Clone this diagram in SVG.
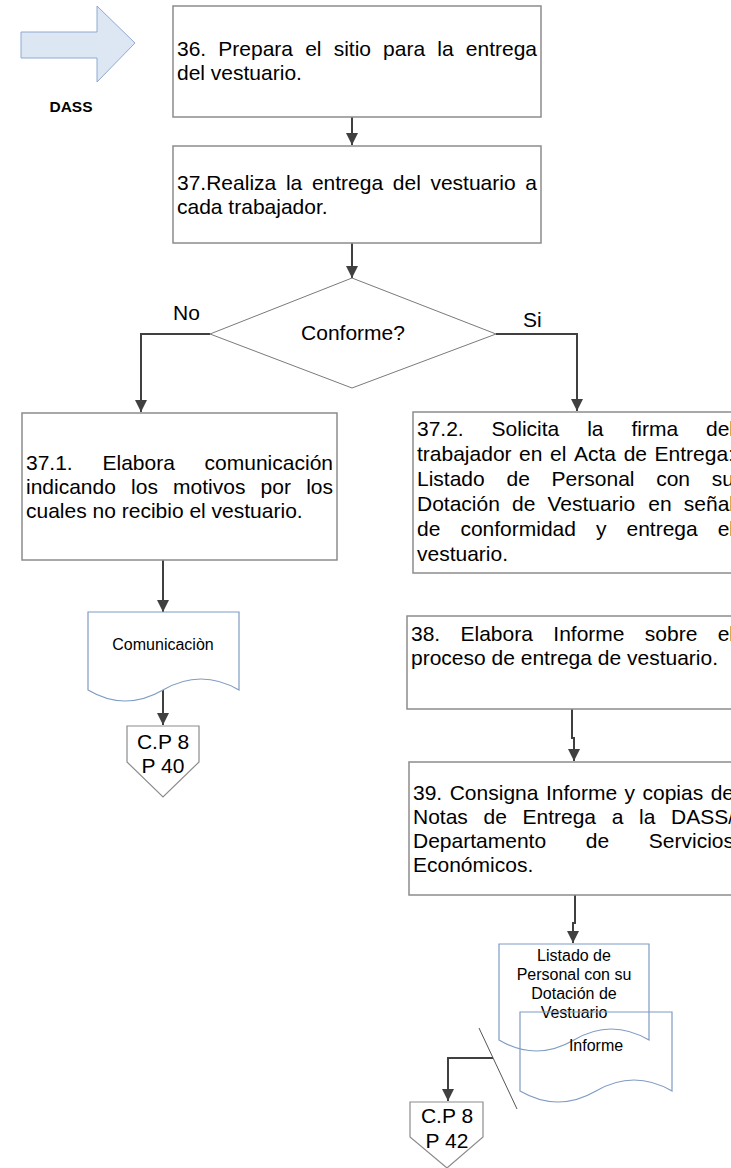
<svg xmlns="http://www.w3.org/2000/svg" width="731" height="1168" viewBox="0 0 731 1168">
  <style>
    .box { fill: #ffffff; stroke: #8c8c8c; stroke-width: 1.5; }
    .dec { fill: #ffffff; stroke: #7a7a7a; stroke-width: 1; }
    .doc { fill: none; stroke: #7f9cc4; stroke-width: 1.2; }
    .off { fill: #ffffff; stroke: #8c8c8c; stroke-width: 1.2; }
    .t { font-family: "Liberation Sans", Arial, sans-serif; font-size: 21px; fill: #000000; }
    .ts { font-family: "Liberation Sans", Arial, sans-serif; font-size: 16px; fill: #000000; }
    .c { text-anchor: middle; }
    .conn { fill: none; stroke: #404040; stroke-width: 2; }
  </style>
  <defs>
    <marker id="arrow" markerUnits="userSpaceOnUse" markerWidth="13" markerHeight="13" refX="12" refY="6" orient="auto">
      <path d="M0,0 L12,6 L0,12 Z" fill="#404040"/>
    </marker>
  </defs>

  <rect width="731" height="1168" fill="#ffffff"/>

  <!-- unit marker -->
  <g id="dass">
    <path d="M21,32 H97 V6 L135,43 L97,82 V58 H21 Z" fill="#dde6f3" stroke="#8faad0" stroke-width="1"/>
    <text x="71" y="112" font-family="Liberation Sans, Arial, sans-serif" font-size="15.5" font-weight="bold" text-anchor="middle">DASS</text>
  </g>

  <!-- connectors -->
  <g id="connectors">
    <path class="conn" d="M352,117 V145" marker-end="url(#arrow)"/>
    <path class="conn" d="M352,243 V278" marker-end="url(#arrow)"/>
    <path class="conn" d="M210,334 H141 V412" marker-end="url(#arrow)"/>
    <path class="conn" d="M496,334 H577 V411" marker-end="url(#arrow)"/>
    <path class="conn" d="M163,560 V612" marker-end="url(#arrow)"/>
    <path class="conn" d="M163,690 V725" marker-end="url(#arrow)"/>
    <path class="conn" d="M572,709 V738 H574 V761" marker-end="url(#arrow)"/>
    <path class="conn" d="M575,895 V923 H573 V943" marker-end="url(#arrow)"/>
    <path class="conn" d="M493,1058 H448 V1101" marker-end="url(#arrow)"/>
    <line x1="479" y1="1028" x2="517" y2="1109" stroke="#555555" stroke-width="1"/>
  </g>

  <!-- justified lines are set word by word -->
  <g id="n36">
    <rect class="box" x="173" y="6" width="368" height="111"/>
    <text class="t" y="56"><tspan x="177">36.</tspan><tspan x="218.3">Prepara</tspan><tspan x="305.2">el</tspan><tspan x="333.7">sitio</tspan><tspan x="383.1">para</tspan><tspan x="437.3">la</tspan><tspan x="465.8">entrega</tspan></text>
    <text class="t" x="177" y="80">del vestuario.</text>
  </g>

  <g id="n37">
    <rect class="box" x="173" y="146" width="368" height="97"/>
    <text class="t" y="190"><tspan x="177">37.Realiza</tspan><tspan x="285.9">la</tspan><tspan x="311.9">entrega</tspan><tspan x="392.8">del</tspan><tspan x="430.4">vestuario</tspan><tspan x="525.3">a</tspan></text>
    <text class="t" x="177" y="214">cada trabajador.</text>
  </g>

  <g id="decision">
    <path class="dec" d="M352,278 L496,334 L352,388 L210,334 Z"/>
    <text class="t c" x="353" y="340">Conforme?</text>
    <text class="t" x="173" y="320">No</text>
    <text class="t" x="523" y="327">Si</text>
  </g>

  <g id="n37-1">
    <rect class="box" x="22" y="413" width="315" height="147"/>
    <text class="t" y="470"><tspan x="26">37.1.</tspan><tspan x="102.5">Elabora</tspan><tspan x="204.6">comunicación</tspan></text>
    <text class="t" y="494"><tspan x="26">indicando</tspan><tspan x="131.1">los</tspan><tspan x="173.1">motivos</tspan><tspan x="260.6">por</tspan><tspan x="306.2">los</tspan></text>
    <text class="t" x="26" y="518">cuales no recibio el vestuario.</text>
  </g>

  <g id="n37-2">
    <rect class="box" x="413" y="412" width="325" height="161"/>
    <text class="t" y="436"><tspan x="417">37.2.</tspan><tspan x="491.6">Solicita</tspan><tspan x="587.2">la</tspan><tspan x="631.4">firma</tspan><tspan x="706">del</tspan></text>
    <text class="t" y="461"><tspan x="417">trabajador</tspan><tspan x="519.1">en</tspan><tspan x="550.1">el</tspan><tspan x="574">Acta</tspan><tspan x="623.7">de</tspan><tspan x="654.6">Entrega:</tspan></text>
    <text class="t" y="486"><tspan x="417">Listado</tspan><tspan x="506.5">de</tspan><tspan x="551.6">Personal</tspan><tspan x="656.2">con</tspan><tspan x="711.8">su</tspan></text>
    <text class="t" y="511"><tspan x="417">Dotación</tspan><tspan x="512">de</tspan><tspan x="547.5">Vestuario</tspan><tspan x="648.3">en</tspan><tspan x="683.8">señal</tspan></text>
    <text class="t" y="536"><tspan x="417">de</tspan><tspan x="460.4">conformidad</tspan><tspan x="595.9">y</tspan><tspan x="626.5">entrega</tspan><tspan x="717.7">el</tspan></text>
    <text class="t" x="417" y="561">vestuario.</text>
  </g>

  <g id="doc-comunicacion">
    <path d="M88,612 H239 V690 Q201,668 163,690 Q125,712 88,690 Z" fill="#ffffff" stroke="#7f9cc4" stroke-width="1.2"/>
    <text class="ts c" x="163" y="650">Comunicaciòn</text>
  </g>

  <g id="off-page-40">
    <path class="off" d="M127,726 H199 V762 L163,797 L127,762 Z"/>
    <text class="t c" x="163" y="749">C.P 8</text>
    <text class="t c" x="163" y="773">P 40</text>
  </g>

  <g id="n38">
    <rect class="box" x="407" y="616" width="330" height="93"/>
    <text class="t" y="641"><tspan x="411">38.</tspan><tspan x="460.5">Elabora</tspan><tspan x="553.3">Informe</tspan><tspan x="644.8">sobre</tspan><tspan x="717.7">el</tspan></text>
    <text class="t" x="411" y="665">proceso de entrega de vestuario.</text>
  </g>

  <g id="n39">
    <rect class="box" x="409" y="762" width="330" height="133"/>
    <text class="t" y="800"><tspan x="413">39.</tspan><tspan x="449.7">Consigna</tspan><tspan x="545.9">Informe</tspan><tspan x="624.5">y</tspan><tspan x="642.5">copias</tspan><tspan x="710.7">de</tspan></text>
    <text class="t" y="824"><tspan x="413">Notas</tspan><tspan x="483.5">de</tspan><tspan x="522.5">Entrega</tspan><tspan x="611.7">a</tspan><tspan x="639">la</tspan><tspan x="671">DASS/</tspan></text>
    <text class="t" y="848"><tspan x="413">Departamento</tspan><tspan x="585.8">de</tspan><tspan x="648.8">Servicios</tspan></text>
    <text class="t" x="413" y="872">Económicos.</text>
  </g>

  <g id="doc-listado">
    <path class="doc" d="M499,944 H649 V1040 Q611,1018 574,1040 Q536,1062 499,1040 Z"/>
    <text class="ts c" x="574" y="961">Listado de</text>
    <text class="ts c" x="574" y="980">Personal con su</text>
    <text class="ts c" x="574" y="999">Dotación de</text>
    <text class="ts c" x="574" y="1018">Vestuario</text>
  </g>

  <g id="doc-informe">
    <path class="doc" d="M520,1012 H672 V1091 Q634,1069 596,1091 Q558,1113 520,1091 Z"/>
    <text class="ts c" x="596" y="1051">Informe</text>
  </g>

  <g id="off-page-42">
    <path class="off" d="M410,1102 H483 V1137 L447,1168 L410,1137 Z"/>
    <text class="t c" x="447" y="1123">C.P 8</text>
    <text class="t c" x="447" y="1148">P 42</text>
  </g>
</svg>
